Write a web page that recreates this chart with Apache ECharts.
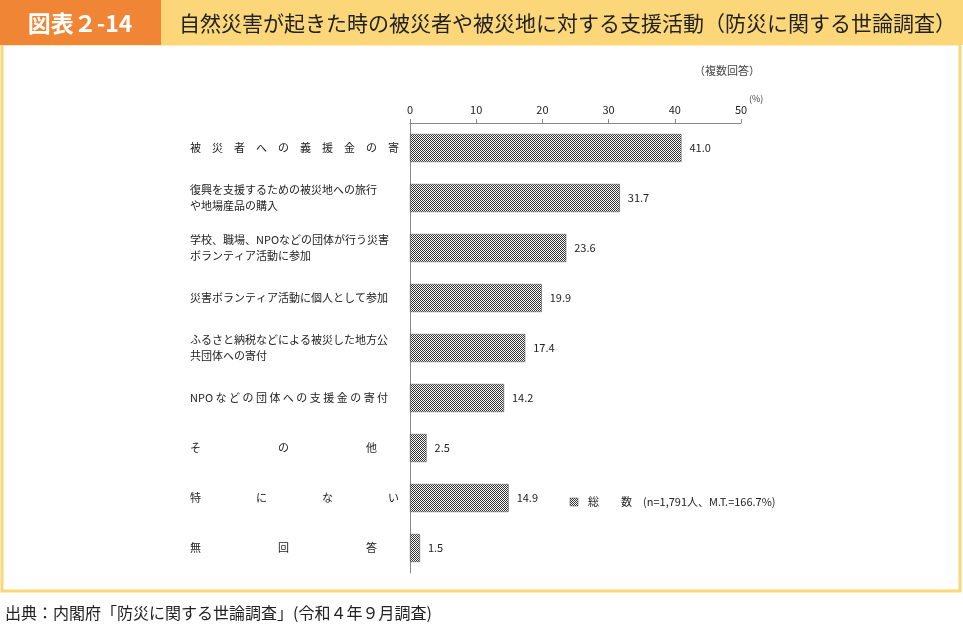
<!DOCTYPE html><html><head><meta charset="utf-8"><script src="https://cdn.jsdelivr.net/npm/echarts@6/dist/echarts.min.js"></script>
<style>body{margin:0}#c{width:963px;height:625px}</style></head><body><div id="c"></div><script>
var categories=['被　災　者　へ　の　義　援　金　の　寄　付','復興を支援するための被災地への旅行\nや地場産品の購入','学校、職場、NPOなどの団体が行う災害\nボランティア活動に参加','災害ボランティア活動に個人として参加','ふるさと納税などによる被災した地方公\n共団体への寄付','NPO な ど の 団 体 へ の 支 援 金 の 寄 付','そ　　　　　　　の　　　　　　　他','特　　　　　に　　　　　な　　　　　い','無　　　　　　　回　　　　　　　答'];
var values=[41.0,31.7,23.6,19.9,17.4,14.2,2.5,14.9,1.5];
var ticks=[0,10,20,30,40,50];
var cv=document.createElement('canvas');cv.width=4;cv.height=4;var g=cv.getContext('2d');
g.fillStyle='#fff';g.fillRect(0,0,4,4);g.fillStyle='#333';
for(var y=0;y<4;y++)for(var x=0;x<4;x++)if((x+y)%2==0)g.fillRect(x,y,1,1);
var pat={image:cv,repeat:'repeat'};
var ch=echarts.init(document.getElementById('c'));
var F='"Noto Sans CJK JP"';
ch.setOption({animation:false,textStyle:{fontFamily:F},
grid:{left:410,top:123,width:331,height:450},
xAxis:{type:'value',position:'top',min:0,max:50,interval:10,axisLine:{show:true,lineStyle:{color:'#888'}},axisTick:{show:true,inside:false,length:4,lineStyle:{color:'#888'}},splitLine:{show:false},axisLabel:{color:'#222',fontSize:11,margin:8,formatter:function(v){return ticks.indexOf(v)>=0?v:'';}}},
yAxis:{type:'category',inverse:true,data:categories,axisLine:{show:true,lineStyle:{color:'#888'}},axisTick:{show:false},axisLabel:{align:'left',margin:220,color:'#222',fontSize:11,lineHeight:16}},
series:[{type:'bar',data:values,barWidth:28,itemStyle:{color:pat,borderColor:'#444',borderWidth:0.5},label:{show:true,position:'right',distance:8,color:'#222',fontSize:11,formatter:function(p){return p.value.toFixed(1);}}}],
graphic:[
{type:'rect',shape:{x:2,y:44,width:958,height:547},style:{fill:'#fff',stroke:'#FCD77A',lineWidth:3},z:-10},
{type:'rect',shape:{x:0,y:0,width:963,height:45},style:{fill:'#FCD77A'}},
{type:'rect',shape:{x:0,y:0,width:161,height:45},style:{fill:'#F08536'}},
{type:'text',x:80,y:23,style:{text:'図表２-14',fill:'#fff',font:'bold 23px '+F,align:'center',verticalAlign:'middle'}},
{type:'text',x:179,y:23,style:{text:'自然災害が起きた時の被災者や被災地に対する支援活動（防災に関する世論調査）',fill:'#222',font:'21px '+F,verticalAlign:'middle'}},
{type:'text',x:760,y:71,style:{text:'（複数回答）',fill:'#444',font:'11px '+F,align:'right',verticalAlign:'middle'}},
{type:'text',x:749,y:99,style:{text:'(%)',fill:'#444',font:'9px '+F,verticalAlign:'middle'}},
{type:'rect',shape:{x:570,y:498,width:8,height:8},style:{fill:pat,stroke:'#444',lineWidth:0.5}},
{type:'text',x:588,y:502,style:{text:'総　　数　(n=1,791人、M.T.=166.7%)',fill:'#222',font:'11px '+F,verticalAlign:'middle'}},
{type:'text',x:5,y:613,style:{text:'出典：内閣府「防災に関する世論調査」(令和４年９月調査)',fill:'#222',font:'16px '+F,verticalAlign:'middle'}}
]});
</script></body></html>
